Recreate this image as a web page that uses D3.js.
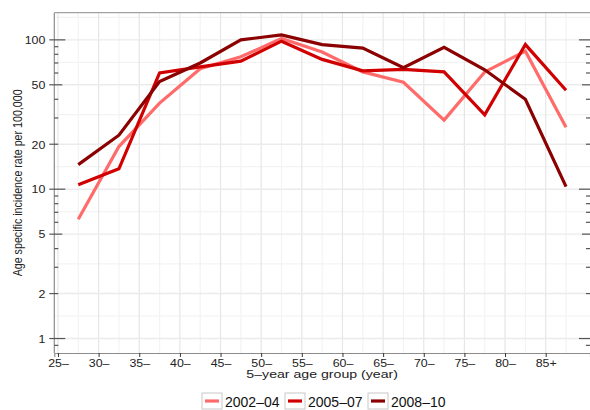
<!DOCTYPE html>
<html lang="en">
<head>
<meta charset="utf-8">
<title>Age specific incidence</title>
<script src="https://cdn.jsdelivr.net/npm/d3@7"></script>
<style>
  html, body { margin: 0; padding: 0; background: #fff; }
  body { font-family: "Liberation Sans", Arial, sans-serif; }
</style>
</head>
<body>
<script>
// age groups (start of each 5-year band) and their labels
const ageStarts = [25, 30, 35, 40, 45, 50, 55, 60, 65, 70, 75, 80, 85];
const ageLabels = ["25\u2013", "30\u2013", "35\u2013", "40\u2013", "45\u2013", "50\u2013", "55\u2013",
                   "60\u2013", "65\u2013", "70\u2013", "75\u2013", "80\u2013", "85+"];
// points are plotted at the middle of each band
const ageMid = [27.5, 32.5, 37.5, 42.5, 47.5, 52.5, 57.5, 62.5, 67.5, 72.5, 77.5, 82.5, 87.5];

const periods = ["2002\u201304", "2005\u201307", "2008\u201310"];
const rate2002 = [6.3, 19.3, 37.7, 64, 77, 102, 83, 61, 52, 29, 61, 84, 26];
const rate2005 = [10.7, 13.7, 60, 66, 72, 98, 74, 62, 63.5, 61, 31.5, 93, 46];
const rate2008 = [14.6, 23, 52.5, 70, 100, 108, 93, 88, 65, 89, 63, 40, 10.4];
const colors = ["#ff6b6b", "#d10000", "#8b0000"];

const yLabels = [1, 2, 5, 10, 20, 50, 100];
const yMinor = [0.9, 3, 4, 6, 7, 8, 9, 30, 40, 60, 70, 80, 90];
const yGridMinor = [1.414, 3.162, 7.071, 14.14, 31.62, 70.71, 141.4];

let w = 590, h = 410;
let pLeft = 54.3, pRight = 590, pTop = 12.7, pBottom = 353;
let sx = 1.18; // the texts in the original look stretched sideways

let svg = d3.select("body").append("svg")
  .attr("width", w).attr("height", h);

let x = d3.scaleLinear([24.55, 90.45], [pLeft, pRight]);
let y = d3.scaleLog([0.8, 152], [pBottom, pTop]);

// grid
let grid = svg.append("g");
grid.selectAll("line.vminor").data(ageMid).join("line")
  .attr("x1", d => x(d)).attr("x2", d => x(d))
  .attr("y1", pTop).attr("y2", pBottom)
  .attr("stroke", "#f3f3f3").attr("stroke-width", 1.2);
grid.selectAll("line.hminor").data(yGridMinor.filter(v => y(v) > pTop)).join("line")
  .attr("x1", pLeft).attr("x2", pRight)
  .attr("y1", d => y(d)).attr("y2", d => y(d))
  .attr("stroke", "#f3f3f3").attr("stroke-width", 1.2);
grid.selectAll("line.vmajor").data(ageStarts).join("line")
  .attr("x1", d => x(d)).attr("x2", d => x(d))
  .attr("y1", pTop).attr("y2", pBottom)
  .attr("stroke", "#e6e6e6").attr("stroke-width", 1.2);
grid.selectAll("line.hmajor").data(yLabels).join("line")
  .attr("x1", pLeft).attr("x2", pRight)
  .attr("y1", d => y(d)).attr("y2", d => y(d))
  .attr("stroke", "#ebebeb").attr("stroke-width", 1.4);

// frame: left axis and top border
svg.append("line").attr("x1", pLeft).attr("x2", pRight).attr("y1", pTop).attr("y2", pTop)
  .attr("stroke", "#8c8c8c").attr("stroke-width", 1);
svg.append("line").attr("x1", pLeft).attr("x2", pLeft).attr("y1", pTop).attr("y2", pBottom)
  .attr("stroke", "#8c8c8c").attr("stroke-width", 1.2);

// x axis
let xAxis = svg.append("g")
  .attr("transform", `translate(0,${pBottom})`)
  .call(d3.axisBottom(x).tickValues(ageStarts).tickSize(4)
    .tickFormat((d, i) => ageLabels[i]));
xAxis.select(".domain").attr("stroke", "#8c8c8c").attr("stroke-width", 1.2);
xAxis.selectAll(".tick line").attr("stroke", "#333");
xAxis.selectAll("text").attr("font-size", "10.5px").attr("fill", "#222")
  .attr("font-family", "Liberation Sans, Arial, sans-serif")
  .attr("y", 13.7).attr("dy", 0)
  .attr("transform", `scale(${sx},1)`);

// y axis labels
let yAxis = svg.append("g")
  .attr("transform", `translate(${pLeft},0)`)
  .call(d3.axisLeft(y).tickValues(yLabels).tickSize(0)
    .tickFormat(d3.format("d")));
yAxis.select(".domain").remove();
yAxis.selectAll("text").attr("font-size", "10.5px").attr("fill", "#222")
  .attr("font-family", "Liberation Sans, Arial, sans-serif")
  .attr("x", -9 / sx).attr("dy", "0.36em")
  .attr("transform", `scale(${sx},1)`);

// y ticks, mirrored on the right edge
let inner = d => (d === 1 || d === 10 || d === 100) ? 11 : (d === 5 || d === 50) ? 8 : 4;
let ticks = svg.append("g").attr("stroke", "#555").attr("stroke-width", 1.2);
ticks.selectAll("line.lmaj").data(yLabels).join("line")
  .attr("x1", pLeft - 5).attr("x2", d => pLeft + inner(d))
  .attr("y1", d => y(d)).attr("y2", d => y(d));
ticks.selectAll("line.lmin").data(yMinor).join("line")
  .attr("x1", pLeft).attr("x2", pLeft + 4)
  .attr("y1", d => y(d)).attr("y2", d => y(d));
ticks.selectAll("line.rmaj").data(yLabels).join("line")
  .attr("x1", d => pRight - inner(d)).attr("x2", pRight)
  .attr("y1", d => y(d)).attr("y2", d => y(d));
ticks.selectAll("line.rmin").data(yMinor).join("line")
  .attr("x1", pRight - 4).attr("x2", pRight)
  .attr("y1", d => y(d)).attr("y2", d => y(d));

// axis titles
svg.append("text")
  .attr("transform", `translate(${(pLeft + pRight) / 2},378.3) scale(1.22,1)`)
  .attr("text-anchor", "middle").attr("font-size", "11.6px").attr("fill", "#222")
  .text("5\u2013year age group (year)");
svg.append("text")
  .attr("transform", `translate(21.5,${(pTop + pBottom) / 2}) scale(1.2,1) rotate(-90)`)
  .attr("text-anchor", "middle").attr("font-size", "11px").attr("fill", "#222")
  .attr("textLength", 187).attr("lengthAdjust", "spacingAndGlyphs")
  .text("Age specific incidence rate per 100,000");

// lines
let series = [rate2002, rate2005, rate2008];
let line = d3.line().x((d, i) => x(ageMid[i])).y(d => y(d));
svg.append("g").selectAll("path").data(series).join("path")
  .attr("d", line)
  .attr("fill", "none")
  .attr("stroke", (d, i) => colors[i])
  .attr("stroke-width", 3.2)
  .attr("stroke-linejoin", "miter");

// legend
let keyW = 83, legX = 202;
let leg = svg.append("g").selectAll("g").data(periods).join("g")
  .attr("transform", (d, i) => `translate(${legX + i * keyW},393)`);
leg.append("rect").attr("width", 20).attr("height", 16)
  .attr("fill", "#fff").attr("stroke", "#c8c8c8").attr("stroke-width", 1);
leg.append("line").attr("x1", 3).attr("x2", 17).attr("y1", 8).attr("y2", 8)
  .attr("stroke", (d, i) => colors[i]).attr("stroke-width", 3.2);
leg.append("text").attr("x", 23).attr("y", 14)
  .attr("font-size", "14px").attr("fill", "#111")
  .text(d => d);
</script>
</body>
</html>
